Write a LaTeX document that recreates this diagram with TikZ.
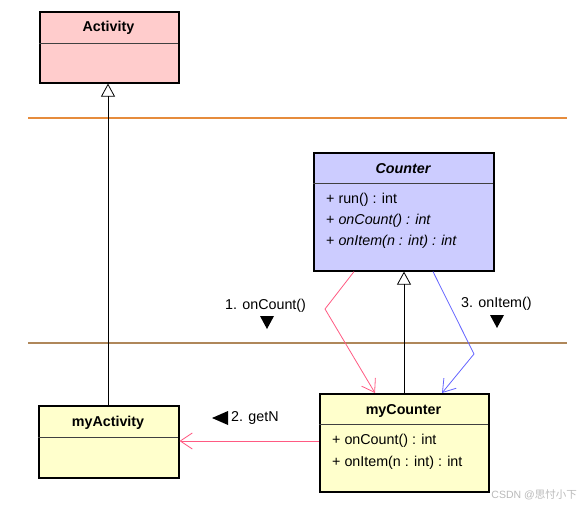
\documentclass[tikz,border=0pt]{standalone}
\usepackage{fontspec}
\setmainfont{Liberation Sans}
\newfontfamily\cjk{Noto Sans CJK SC}
\usetikzlibrary{arrows.meta}
\definecolor{actfill}{RGB}{255,204,204}
\definecolor{cntfill}{RGB}{204,204,255}
\definecolor{myfill}{RGB}{255,255,204}
\definecolor{orangeline}{RGB}{230,140,60}
\definecolor{brownline}{RGB}{175,135,90}
\definecolor{pinkline}{RGB}{255,90,130}
\definecolor{blueline}{RGB}{100,100,255}
\definecolor{wm}{RGB}{185,185,185}
\tikzset{
  umlbox/.style={draw=black, line width=1.6pt, rectangle, inner sep=0pt, anchor=north west},
  divider/.style={draw=black!75, line width=0.8pt},
  title/.style={font=\fontsize{14.3}{16}\selectfont\bfseries, inner sep=0pt},
  attr/.style={font=\fontsize{14.3}{16}\selectfont, inner sep=0pt, anchor=west},
  lbl/.style={font=\fontsize{14.3}{16}\selectfont, inner sep=0pt, anchor=west},
  lane/.style={line width=1.6pt},
  gen/.style={draw=black, line width=0.8pt, -{Triangle[open, length=13pt, width=14pt, line width=0.8pt]}},
  dep/.style={line width=0.8pt, -{Straight Barb[length=12pt, width=16pt, line width=0.8pt]}},
  marker/.style={fill=black}
}
\begin{document}
\begin{tikzpicture}[x=1pt,y=-1pt]
\useasboundingbox (0,0) rectangle (578,507);
% swimlane separators
\draw[lane, orangeline] (28,118) -- (567,118);
\draw[lane, brownline] (28,343) -- (567,343);
% Activity
\node[umlbox, fill=actfill, minimum width=139pt, minimum height=71pt] (activity) at (39,11) {};
\draw[divider] (39,43) -- (178,43);
\node[title] (activityT) at (108.5,28) {Activity};
% Counter
\node[umlbox, fill=cntfill, minimum width=180pt, minimum height=118pt] (counter) at (313,152) {};
\draw[divider] (313,183) -- (493,183);
\node[title] (counterT) at (403,169) {\itshape Counter};
\node[attr] (cA1) at (326,200) {+ run() : int};
\node[attr] (cA2) at (326,221) {+ \itshape onCount() : int};
\node[attr] (cA3) at (326,242) {+ \itshape onItem(n : int) : int};
% myCounter
\node[umlbox, fill=myfill, minimum width=169pt, minimum height=98pt] (mycounter) at (319,393) {};
\draw[divider] (319,424) -- (488,424);
\node[title] (mycounterT) at (403.5,411) {myCounter};
\node[attr] (mA1) at (332,441) {+ onCount() : int};
\node[attr] (mA2) at (332,463) {+ onItem(n : int) : int};
% myActivity
\node[umlbox, fill=myfill, minimum width=140pt, minimum height=72pt] (myactivity) at (38,405) {};
\draw[divider] (38,437) -- (178,437);
\node[title] (myactivityT) at (108,423) {myActivity};
% generalizations
\draw[gen] (myactivity.north -| 108,0) -- (activity.south -| 108,0);
\draw[gen] (mycounter.north -| 404,0) -- (counter.south -| 404,0);
% dependency arrows
\coordinate (pbend) at (325,309);
\coordinate (bbend) at (474,354);
\draw[dep, pinkline] (counter.south -| 354,0) -- (pbend) -- (mycounter.north -| 375,0);
\draw[dep, blueline] (counter.south -| 433,0) -- (bbend) -- (mycounter.north -| 442,0);
\draw[dep, pinkline] (mycounter.west |- 0,441) -- (myactivity.east |- 0,441);
% labels
\node[lbl] (l1) at (225,306) {1. onCount()};
\fill[marker] (260,316) -- (274,316) -- (267,329) -- cycle;
\node[lbl] (l3) at (461,304) {3. onItem()};
\fill[marker] (490,315) -- (504,315) -- (497,328) -- cycle;
\fill[marker] (212,418) -- (228,411) -- (228,425) -- cycle;
\node[lbl] (l2) at (231,418) {2. getN};
% watermark
\node[font=\fontsize{10.5}{12}\selectfont, text=wm, inner sep=0pt, anchor=east] (wmark) at (577,495) {CSDN @{\cjk 思忖小下}};
\end{tikzpicture}
\end{document}
